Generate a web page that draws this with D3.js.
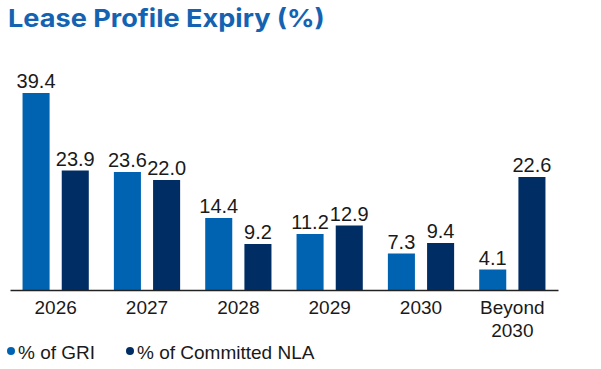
<!DOCTYPE html>
<html>
<head>
<meta charset="utf-8">
<script src="https://cdn.jsdelivr.net/npm/d3@7"></script>
<style>
  html, body { margin: 0; padding: 0; background: #ffffff; }
  svg { display: block; }
</style>
</head>
<body>
<svg id="chart" width="601" height="369"></svg>
<script>
const categories = ["2026", "2027", "2028", "2029", "2030", "Beyond 2030"];
const seriesNames = ["% of GRI", "% of Committed NLA"];
const griValues = [39.4, 23.6, 14.4, 11.2, 7.3, 4.1];
const nlaValues = [23.9, 22.0, 9.2, 12.9, 9.4, 22.6];
const colors = ["#0063B2", "#002D64"];

const svg = d3.select("#chart");
const baseline = 290;

const x0 = d3.scaleBand().domain(categories).range([10, 558]).padding(0);
const x1 = d3.scaleBand().domain(seriesNames).range([0, x0.bandwidth()])
  .paddingInner(0.31).paddingOuter(0.32);
const y = d3.scaleLinear().domain([0, 40]).range([baseline, 90]);

const data = categories.map((c, i) => ({
  cat: c,
  vals: [
    { s: seriesNames[0], v: griValues[i], c: colors[0] },
    { s: seriesNames[1], v: nlaValues[i], c: colors[1] }
  ]
}));

// Title (glyphs stretched horizontally like the reference)
const titleG = svg.append("g");
const title = titleG.append("text")
  .attr("x", 0).attr("y", 0)
  .attr("font-family", "Inter, 'Noto Sans', sans-serif")
  .attr("font-weight", 700)
  .attr("font-size", 24.5)
  .attr("fill", "#1463B3")
  .text("Lease Profile Expiry (%)");
const k = 317 / title.node().getComputedTextLength();
titleG.attr("transform", `translate(8,27) scale(${k.toFixed(3)},1)`);

const groups = svg.append("g").selectAll("g").data(data).join("g")
  .attr("transform", d => `translate(${x0(d.cat)},0)`);

groups.selectAll("rect").data(d => d.vals).join("rect")
  .attr("x", d => x1(d.s))
  .attr("width", x1.bandwidth())
  .attr("y", d => y(d.v))
  .attr("height", d => baseline - y(d.v))
  .attr("fill", d => d.c);

groups.selectAll("text.val").data(d => d.vals).join("text")
  .attr("class", "val")
  .attr("x", d => x1(d.s) + x1.bandwidth() / 2)
  .attr("y", d => y(d.v) - 5)
  .attr("text-anchor", "middle")
  .attr("font-family", "'Liberation Sans', Arial, sans-serif")
  .attr("font-size", 20)
  .attr("fill", "#1a1a1a")
  .text(d => d.v.toFixed(1));

// Axis
const xAxis = d3.axisBottom(x0).tickSize(0).tickPadding(0);
const axisG = svg.append("g").attr("transform", `translate(0,${baseline})`).call(xAxis);
axisG.select(".domain").attr("stroke", "#222").attr("stroke-width", 1.6);
axisG.selectAll(".tick text").remove();
axisG.selectAll(".tick").each(function(d) {
  const words = d.split(" ");
  const t = d3.select(this).append("text")
    .attr("text-anchor", "middle")
    .attr("font-family", "'Liberation Sans', Arial, sans-serif")
    .attr("font-size", 19)
    .attr("fill", "#1a1a1a");
  if (words.length === 1) {
    t.append("tspan").attr("x", 0).attr("y", 23.5).text(d);
  } else {
    t.append("tspan").attr("x", 0).attr("y", 23.5).text(words[0]);
    t.append("tspan").attr("x", 0).attr("y", 46.5).text(words.slice(1).join(" "));
  }
});

// Legend
const legendX = [11, 130];
const legend = svg.append("g").selectAll("g").data(seriesNames).join("g")
  .attr("transform", (d, i) => `translate(${legendX[i]},351)`);
legend.append("circle").attr("r", 4).attr("cx", 0).attr("cy", 0)
  .attr("fill", (d, i) => colors[i]);
legend.append("text").attr("x", 7).attr("y", 8)
  .attr("font-family", "'Liberation Sans', Arial, sans-serif")
  .attr("font-size", 19)
  .attr("fill", "#1a1a1a")
  .text(d => d);
</script>
</body>
</html>
